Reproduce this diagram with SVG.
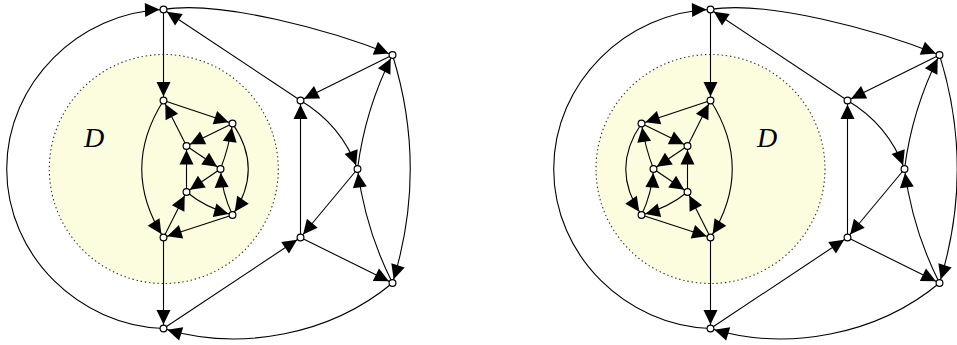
<svg xmlns="http://www.w3.org/2000/svg" width="957" height="345" viewBox="0 0 957 345">
<style>
.region{fill:#fcfcdf;stroke:#333;stroke-width:1.1;stroke-dasharray:1.4 2.8}
.e{fill:none;stroke:#000;stroke-width:1.1;marker-end:url(#ah)}
.n{fill:#fff;stroke:#000;stroke-width:1.2}
.lbl{font-family:"Liberation Serif","DejaVu Serif",serif;font-style:italic;font-size:28px;fill:#000}
</style>
<defs>
<marker id="ah" markerUnits="userSpaceOnUse" markerWidth="24" markerHeight="16" refX="18.5" refY="7" orient="auto" overflow="visible">
<path d="M0,0 L14.5,7 L0,14 z" fill="#000"/>
</marker>
</defs>
<rect width="957" height="345" fill="#fff"/>
<circle id="regionL" class="region" cx="163.8" cy="169" r="114.5"/>
<circle id="regionR" class="region" cx="710.5" cy="169" r="114.5"/>
<text id="labelL" class="lbl" x="84" y="146.5">D</text>
<text id="labelR" class="lbl" x="757" y="146.5">D</text>
<g id="connectors">
<!-- left graph outer -->
<path class="e" d="M163.5,328.5 C80,326 6.7,256 6.7,169 C6.7,82 80,12 163.5,9.5"/>
<path class="e" d="M163.5,9.5 C220,0 330,30 392.5,55"/>
<path class="e" d="M300.5,100.5 L163.5,9.5"/>
<path class="e" d="M392.5,55 L300.5,100.5"/>
<path class="e" d="M300.5,100.5 Q341.3,124.7 357.5,169"/>
<path class="e" d="M357.5,169 Q365.2,109 392.5,55"/>
<path class="e" d="M392.5,55 Q428,169 392.5,283"/>
<path class="e" d="M357.5,169 L300.5,237.5"/>
<path class="e" d="M392.5,283 Q365.2,229 357.5,169"/>
<path class="e" d="M300.5,237.5 L392.5,283"/>
<path class="e" d="M300.5,237.5 L300.5,100.5"/>
<path class="e" d="M163.5,328.5 L300.5,237.5"/>
<path class="e" d="M392.5,283 C330,335 240,352 163.5,328.5"/>
<path class="e" d="M163.5,9.5 L163.5,100.5"/>
<path class="e" d="M163.5,237.5 L163.5,328.5"/>
<!-- left graph inner -->
<path class="e" d="M163.5,100.5 L232.5,123.5"/>
<path class="e" d="M186.5,146 L163.5,100.5"/>
<path class="e" d="M163.5,100.5 Q120,169 163.5,237.5"/>
<path class="e" d="M232.5,123.5 L186.5,146"/>
<path class="e" d="M186.5,146 L220.5,169"/>
<path class="e" d="M220.5,169 Q229,147 232.5,123.5"/>
<path class="e" d="M232.5,123.5 Q264,169 232.5,215"/>
<path class="e" d="M220.5,169 L186.5,192"/>
<path class="e" d="M186.5,192 L186.5,146"/>
<path class="e" d="M232.5,215 Q222,193 220.5,169"/>
<path class="e" d="M186.5,192 Q206,208 232.5,215"/>
<path class="e" d="M163.5,237.5 L186.5,192"/>
<path class="e" d="M232.5,215 L163.5,237.5"/>
<!-- right graph outer -->
<path class="e" d="M710.5,328.5 C627,326 553.7,256 553.7,169 C553.7,82 627,12 710.5,9.5"/>
<path class="e" d="M710.5,9.5 C767,0 877,30 939.5,55"/>
<path class="e" d="M847.5,100.5 L710.5,9.5"/>
<path class="e" d="M939.5,55 L847.5,100.5"/>
<path class="e" d="M847.5,100.5 Q888.3,124.7 904.5,169"/>
<path class="e" d="M904.5,169 Q912.2,109 939.5,55"/>
<path class="e" d="M939.5,55 Q975,169 939.5,283"/>
<path class="e" d="M904.5,169 L847.5,237.5"/>
<path class="e" d="M939.5,283 Q912.2,229 904.5,169"/>
<path class="e" d="M847.5,237.5 L939.5,283"/>
<path class="e" d="M847.5,237.5 L847.5,100.5"/>
<path class="e" d="M710.5,328.5 L847.5,237.5"/>
<path class="e" d="M939.5,283 C877,335 787,352 710.5,328.5"/>
<path class="e" d="M710.5,9.5 L710.5,100.5"/>
<path class="e" d="M710.5,237.5 L710.5,328.5"/>
<!-- right graph inner (mirrored) -->
<path class="e" d="M710.5,100.5 L641.5,123.5"/>
<path class="e" d="M687.5,146 L710.5,100.5"/>
<path class="e" d="M710.5,100.5 Q754,169 710.5,237.5"/>
<path class="e" d="M641.5,123.5 L687.5,146"/>
<path class="e" d="M687.5,146 L653.5,169"/>
<path class="e" d="M653.5,169 Q645,147 641.5,123.5"/>
<path class="e" d="M641.5,123.5 Q610,169 641.5,215"/>
<path class="e" d="M653.5,169 L687.5,192"/>
<path class="e" d="M687.5,192 L687.5,146"/>
<path class="e" d="M641.5,215 Q652,193 653.5,169"/>
<path class="e" d="M687.5,192 Q668,208 641.5,215"/>
<path class="e" d="M710.5,237.5 L687.5,192"/>
<path class="e" d="M641.5,215 L710.5,237.5"/>
</g>
<!-- left graph nodes -->
<g id="L_A"><circle class="n" cx="163.5" cy="9.5" r="3.4"/></g>
<g id="L_B"><circle class="n" cx="392.5" cy="55" r="3.4"/></g>
<g id="L_C"><circle class="n" cx="300.5" cy="100.5" r="3.4"/></g>
<g id="L_E"><circle class="n" cx="357.5" cy="169" r="3.4"/></g>
<g id="L_F"><circle class="n" cx="300.5" cy="237.5" r="3.4"/></g>
<g id="L_G"><circle class="n" cx="392.5" cy="283" r="3.4"/></g>
<g id="L_H"><circle class="n" cx="163.5" cy="328.5" r="3.4"/></g>
<g id="L_I"><circle class="n" cx="163.5" cy="100.5" r="3.4"/></g>
<g id="L_J"><circle class="n" cx="163.5" cy="237.5" r="3.4"/></g>
<g id="L_P1"><circle class="n" cx="232.5" cy="123.5" r="3.4"/></g>
<g id="L_P2"><circle class="n" cx="186.5" cy="146" r="3.4"/></g>
<g id="L_P3"><circle class="n" cx="220.5" cy="169" r="3.4"/></g>
<g id="L_P4"><circle class="n" cx="186.5" cy="192" r="3.4"/></g>
<g id="L_P5"><circle class="n" cx="232.5" cy="215" r="3.4"/></g>
<!-- right graph nodes -->
<g id="R_A"><circle class="n" cx="710.5" cy="9.5" r="3.4"/></g>
<g id="R_B"><circle class="n" cx="939.5" cy="55" r="3.4"/></g>
<g id="R_C"><circle class="n" cx="847.5" cy="100.5" r="3.4"/></g>
<g id="R_E"><circle class="n" cx="904.5" cy="169" r="3.4"/></g>
<g id="R_F"><circle class="n" cx="847.5" cy="237.5" r="3.4"/></g>
<g id="R_G"><circle class="n" cx="939.5" cy="283" r="3.4"/></g>
<g id="R_H"><circle class="n" cx="710.5" cy="328.5" r="3.4"/></g>
<g id="R_I"><circle class="n" cx="710.5" cy="100.5" r="3.4"/></g>
<g id="R_J"><circle class="n" cx="710.5" cy="237.5" r="3.4"/></g>
<g id="R_P1"><circle class="n" cx="641.5" cy="123.5" r="3.4"/></g>
<g id="R_P2"><circle class="n" cx="687.5" cy="146" r="3.4"/></g>
<g id="R_P3"><circle class="n" cx="653.5" cy="169" r="3.4"/></g>
<g id="R_P4"><circle class="n" cx="687.5" cy="192" r="3.4"/></g>
<g id="R_P5"><circle class="n" cx="641.5" cy="215" r="3.4"/></g>
</svg>
